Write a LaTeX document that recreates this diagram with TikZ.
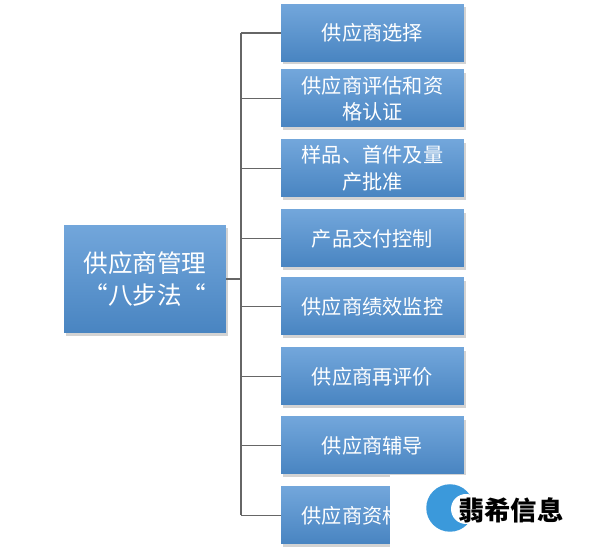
\documentclass[tikz,border=0pt]{standalone}
\usepackage{fontspec}
\newfontfamily\cjk{Noto Sans CJK SC}
\usetikzlibrary{shadows}
\begin{document}
\begin{tikzpicture}[x=0.02cm,y=-0.02cm,
  box/.style={draw=none,align=center,text=white,font=\cjk\fontsize{11.5}{15}\selectfont,
    drop shadow={opacity=0.35,shadow xshift=1pt,shadow yshift=-1.5pt}},
  rbox/.style={box,minimum width=3.66cm,minimum height=1.14cm,text width=3.3cm},
  ln/.style={draw=gray!80!black,line width=0.8pt}]
\definecolor{box}{HTML}{4F90D2}
\tikzset{box/.append style={top color=box!80!white,bottom color=box!92!black}}
\useasboundingbox (0,0) rectangle (600,553);
\node[box,minimum width=3.16cm,minimum height=2.16cm,text width=3cm,font=\cjk\fontsize{14}{18}\selectfont] (m) at (145,279) {供应商管理\\“八步法“};
\node[rbox] (b1) at (372.5,33) {供应商选择};
\node[rbox] (b2) at (372.5,98.5) {供应商评估和资\\格认证};
\node[rbox] (b3) at (372.5,168.5) {样品、首件及量\\产批准};
\node[rbox] (b4) at (372.5,238.5) {产品交付控制};
\node[rbox] (b5) at (372.5,306.5) {供应商绩效监控};
\node[rbox] (b6) at (372.5,376.5) {供应商再评价};
\node[rbox] (b7) at (372.5,445.5) {供应商辅导};
\node[rbox] (b8) at (372.5,515.5) {供应商资格取消};
\coordinate (t1) at (241,33);
\coordinate (t8) at (241,515.5);
\coordinate (tm) at (241,279);
\draw[ln] (t1) -- (t8);
\draw[ln] (m.east) -- (tm);
\foreach \i in {1,...,8} \draw[ln] (b\i.west) -- (241,0 |- b\i.west);
\fill[white] (390,475) rectangle (600,553);
\node[circle,fill=cyan!70!blue!80,minimum size=0.95cm,inner sep=0] (logo) at (450,508) {};
\fill[white] (466,509) circle (15);
\node[font=\cjk\bfseries\fontsize{15}{17}\selectfont,anchor=west] (wm) at (452,510) {翡希信息};
\end{tikzpicture}
\end{document}
